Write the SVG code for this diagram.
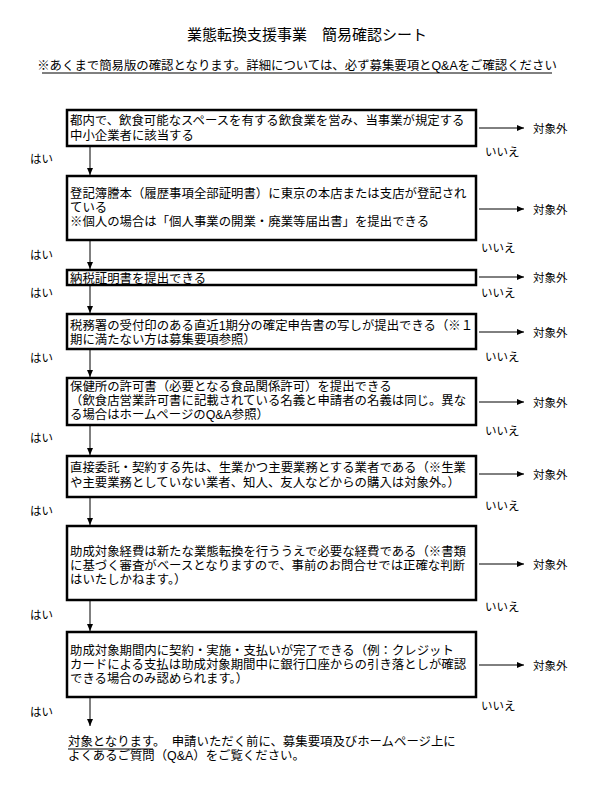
<svg xmlns="http://www.w3.org/2000/svg" width="614" height="801" viewBox="0 0 614 801">
<defs>
<marker id="ah" markerWidth="8" markerHeight="8" refX="7" refY="4" orient="auto" markerUnits="userSpaceOnUse"><path d="M0,1 L7,4 L0,7 Z" fill="#000"/></marker>
<style>
text{font-family:"Liberation Sans","Noto Sans CJK JP",sans-serif;fill:#000}
.t{font-size:12.4px}
.l{font-size:11.5px}
.box{fill:#fff;stroke:#000;stroke-width:2.5}
.c{stroke:#000;stroke-width:1;fill:none;marker-end:url(#ah)}
</style>
</defs>
<rect width="614" height="801" fill="#fff"/>
<text x="307" y="40" text-anchor="middle" style="font-size:15px">業態転換支援事業　簡易確認シート</text>
<text x="297" y="70" text-anchor="middle" class="t">※あくまで簡易版の確認となります。詳細については、必ず募集要項とQ&amp;Aをご確認ください</text>
<line x1="42" y1="73" x2="552" y2="73" stroke="#000" stroke-width="1"/>
<g id="n1"><rect class="box" x="67" y="110" width="409" height="36"/><text class="t" x="70" y="125">都内で、飲食可能なスペースを有する飲食業を営み、当事業が規定する</text><text class="t" x="70" y="140">中小企業者に該当する</text></g>
<g id="n2"><rect class="box" x="67" y="176" width="409" height="64"/><text class="t" x="70" y="198">登記簿謄本（履歴事項全部証明書）に東京の本店または支店が登記され</text><text class="t" x="70" y="212">ている</text><text class="t" x="70" y="226">※個人の場合は「個人事業の開業・廃業等届出書」を提出できる</text></g>
<g id="n3"><rect class="box" x="67" y="270" width="409" height="15"/><text class="t" x="70" y="283">納税証明書を提出できる</text></g>
<g id="n4"><rect class="box" x="67" y="314" width="409" height="35"/><text class="t" x="70" y="330">税務署の受付印のある直近1期分の確定申告書の写しが提出できる（※１</text><text class="t" x="70" y="344">期に満たない方は募集要項参照）</text></g>
<g id="n5"><rect class="box" x="67" y="378" width="409" height="47"/><text class="t" x="70" y="391">保健所の許可書（必要となる食品関係許可）を提出できる</text><text class="t" x="70" y="405">（飲食店営業許可書に記載されている名義と申請者の名義は同じ。異な</text><text class="t" x="70" y="419">る場合はホームページのQ&amp;A参照）</text></g>
<g id="n6"><rect class="box" x="67" y="456" width="409" height="41"/><text class="t" x="70" y="472">直接委託・契約する先は、生業かつ主要業務とする業者である（※生業</text><text class="t" x="70" y="487">や主要業務としていない業者、知人、友人などからの購入は対象外。）</text></g>
<g id="n7"><rect class="box" x="67" y="526" width="409" height="74"/><text class="t" x="70" y="556">助成対象経費は新たな業態転換を行ううえで必要な経費である（※書類</text><text class="t" x="70" y="570">に基づく審査がベースとなりますので、事前のお問合せでは正確な判断</text><text class="t" x="70" y="584">はいたしかねます。）</text></g>
<g id="n8"><rect class="box" x="67" y="632" width="409" height="65"/><text class="t" x="70" y="655">助成対象期間内に契約・実施・支払いが完了できる（例：クレジット</text><text class="t" x="70" y="669">カードによる支払は助成対象期間中に銀行口座からの引き落としが確認</text><text class="t" x="70" y="683">できる場合のみ認められます。）</text></g>
<g id="end"><text class="t" x="68" y="746">対象となります。　申請いただく前に、募集要項及びホームページ上に</text><text class="t" x="68" y="760">よくあるご質問（Q&amp;A）をご覧ください。</text><line x1="68" y1="749" x2="153" y2="749" stroke="#000" stroke-width="1"/></g>
<g id="connectors">
<path class="c" d="M90,147 V175"/><path class="c" d="M90,241 V269"/><path class="c" d="M90,286 V313"/><path class="c" d="M90,350 V377"/><path class="c" d="M90,426 V455"/><path class="c" d="M90,498 V525"/><path class="c" d="M90,601 V631"/><path class="c" d="M90,698 V726"/>
<path class="c" d="M479,128 H524"/><path class="c" d="M479,209 H524"/><path class="c" d="M479,277 H524"/><path class="c" d="M479,332 H524"/><path class="c" d="M479,402 H524"/><path class="c" d="M479,474 H524"/><path class="c" d="M479,564 H524"/><path class="c" d="M479,665 H524"/>
</g>
<g class="l">
<text class="l" x="533" y="133">対象外</text><text class="l" x="533" y="214">対象外</text><text class="l" x="533" y="282">対象外</text><text class="l" x="533" y="337">対象外</text><text class="l" x="533" y="407">対象外</text><text class="l" x="533" y="479">対象外</text><text class="l" x="533" y="569">対象外</text><text class="l" x="533" y="670">対象外</text>
<text class="l" x="30" y="163">はい</text><text class="l" x="30" y="259">はい</text><text class="l" x="30" y="297">はい</text><text class="l" x="30" y="362">はい</text><text class="l" x="30" y="442">はい</text><text class="l" x="30" y="515">はい</text><text class="l" x="30" y="619">はい</text><text class="l" x="30" y="716">はい</text>
<text class="l" x="485" y="156">いいえ</text><text class="l" x="481" y="252">いいえ</text><text class="l" x="481" y="297">いいえ</text><text class="l" x="485" y="361">いいえ</text><text class="l" x="485" y="435">いいえ</text><text class="l" x="485" y="510">いいえ</text><text class="l" x="485" y="611">いいえ</text><text class="l" x="481" y="710">いいえ</text>
</g>
</svg>
